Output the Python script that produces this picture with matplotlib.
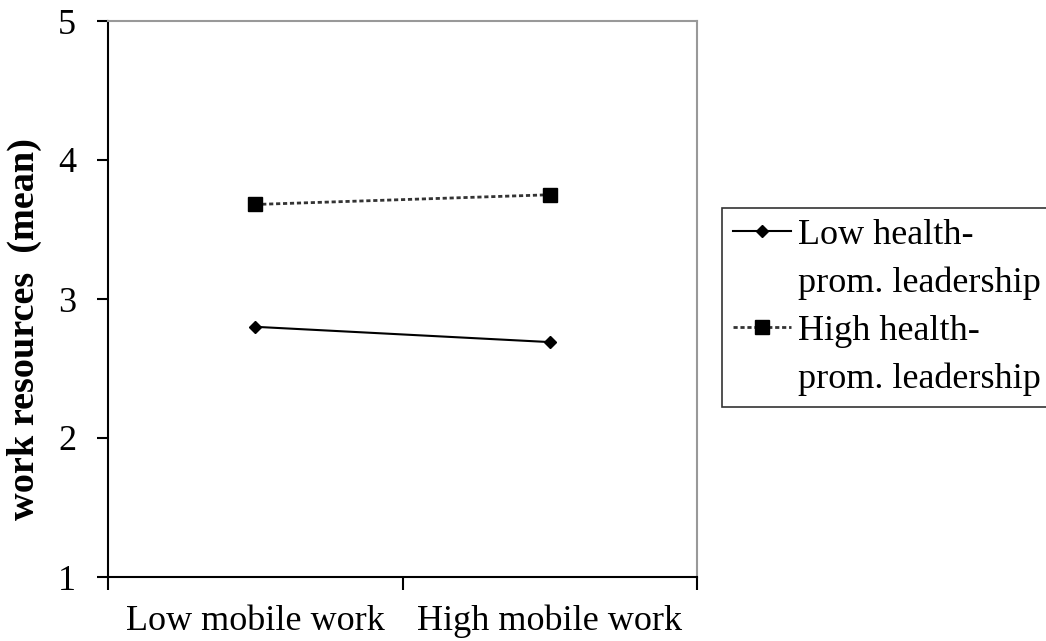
import matplotlib
matplotlib.use("Agg")
import matplotlib.pyplot as plt
from matplotlib.lines import Line2D

# category labels and group means
categories = ['Low mobile work', 'High mobile work']
low_leadership = [2.80, 2.69]
high_leadership = [3.68, 3.75]
series_labels = [['Low health-', 'prom. leadership'], ['High health-', 'prom. leadership']]
y_ticks = [1, 2, 3, 4, 5]

plt.rcParams['font.family'] = ['Liberation Serif', 'DejaVu Serif']

fig = plt.figure(figsize=(10.46, 6.41), dpi=100)
ax = fig.add_axes([108/1046, 1 - 577/641, (697 - 108)/1046, (577 - 21)/641])

x = [i + 0.5 for i in range(len(categories))]
l1, = ax.plot(x, low_leadership, color='black', lw=1.5, marker='D', markersize=6.5)
l2, = ax.plot(x, high_leadership, color='#333333', lw=2, linestyle=(0, (1.5, 1)),
              marker='s', markersize=9.5, markerfacecolor='black', markeredgecolor='black')

ax.set_xlim(0, len(categories))
ax.set_ylim(1, 5)
ax.set_yticks(y_ticks)
ax.set_xticks(range(len(categories) + 1))
ax.set_xticklabels([])
ax.set_xticks(x, minor=True)
ax.set_xticklabels(categories, minor=True, fontsize=26)
ax.tick_params(axis='x', which='minor', length=0, pad=20)
ax.tick_params(axis='x', which='major', length=9, width=1.5, direction='out')
ax.tick_params(axis='y', length=8, width=1.5, direction='out', labelsize=26, pad=15)

for side in ['left', 'bottom']:
    ax.spines[side].set_linewidth(1.5)
    ax.spines[side].set_color('black')
for side in ['top', 'right']:
    ax.spines[side].set_linewidth(1.5)
    ax.spines[side].set_color('#999999')

ax.set_ylabel('work resources  (mean)', fontsize=27.5, fontweight='bold')
ax.yaxis.set_label_coords(-0.112, 0.446)

# two-line labels: marker only on the first line of each entry
blank = Line2D([], [], linestyle='none')
handles = [l1, blank, l2, blank]
labels = series_labels[0] + series_labels[1]
leg = fig.legend(handles, labels, loc='upper left', bbox_to_anchor=(722/1046, 1 - 208/641),
                 fontsize=26, frameon=True, fancybox=False, handlelength=1.6,
                 handletextpad=0.2, borderpad=0.3, labelspacing=0.4,
                 borderaxespad=0)
leg.get_frame().set_edgecolor('black')
leg.get_frame().set_linewidth(1.2)

fig.savefig('out.png', dpi=100)
